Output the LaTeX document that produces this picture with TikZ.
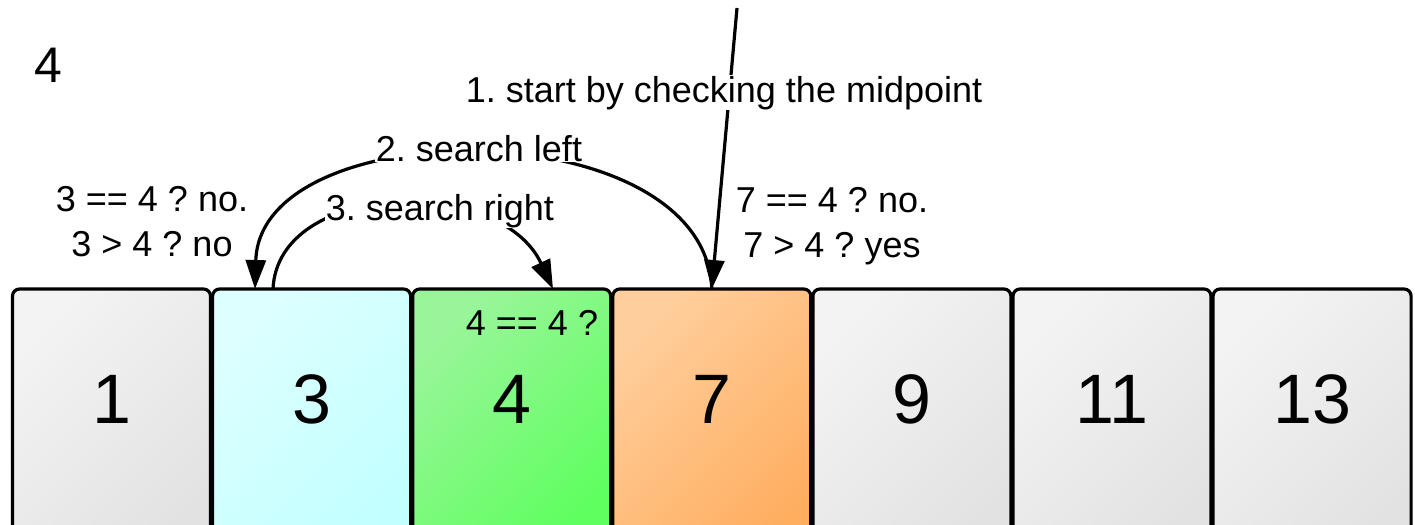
\documentclass[tikz,border=0pt]{standalone}
\usepackage{fontspec}
\setmainfont{Liberation Sans}
\frenchspacing
\usetikzlibrary{arrows.meta,calc}
\definecolor{grayA}{HTML}{F3F3F3}
\definecolor{grayB}{HTML}{E2E2E2}
\definecolor{cyanA}{HTML}{DDFFFF}
\definecolor{cyanB}{HTML}{C2FFFF}
\definecolor{greenA}{HTML}{9AF59A}
\definecolor{greenB}{HTML}{5EFF5E}
\definecolor{orangeA}{HTML}{FFCE9C}
\definecolor{orangeB}{HTML}{FFAE60}
\tikzset{
  cell/.style={draw=black, line width=1.6pt, rounded corners=3.5pt, outer sep=0pt,
    inner sep=0pt, minimum width=99pt, minimum height=135.5pt, anchor=north},
  cgray/.style={top color=grayA, bottom color=grayB, shading angle=45},
  ccyan/.style={top color=cyanA, bottom color=cyanB, shading angle=45},
  cgreen/.style={top color=greenA, bottom color=greenB, shading angle=45},
  corange/.style={top color=orangeA, bottom color=orangeB, shading angle=45},
  num/.style={anchor=base, font=\fontsize{35}{42}\selectfont},
  lbl/.style={font=\fontsize{18}{22.5}\selectfont, inner sep=0.5pt},
  conn/.style={line width=1.6pt, -{Triangle[length=14.5pt,width=10pt]}}
}
\begin{document}
\begin{tikzpicture}[x=0.5pt,y=-0.5pt]
\useasboundingbox (0,0) rectangle (1415,525);
\clip (0,0) rectangle (1415,525);
% cells
\node[cell, cgray]   (b1) at (111.5,289) {};
\node[cell, ccyan]   (b2) at (311.6,289) {};
\node[cell, cgreen]  (b3) at (511.7,289) {};
\node[cell, corange] (b4) at (711.8,289) {};
\node[cell, cgray]   (b5) at (911.9,289) {};
\node[cell, cgray]   (b6) at (1112,289) {};
\node[cell, cgray]   (b7) at (1312.1,289) {};
% numbers
\node[num] (n1) at (111.5,423) {1};
\node[num] (n2) at (311.6,423) {3};
\node[num] (n3) at (511.7,423) {4};
\node[num] (n4) at (711.8,423) {7};
\node[num] (n5) at (911.9,423) {9};
\node[num] (n6) at (1112,423) {11};
\node[num] (n7) at (1312.1,423) {13};
% connector end points
\coordinate (s1) at (737,8);
\coordinate (a7) at (b4.north);
\coordinate (a3in) at ($(b2.north)+(-56.6,0)$);
\coordinate (a3out) at ($(b2.north)+(-38.6,0)$);
\coordinate (a4in) at ($(b3.north)+(41.3,0)$);
% connectors
\draw[conn] (a3out) .. controls (278,180) and (500,175) .. (a4in);
\draw[conn] (a7) .. controls (705,110) and (260,110) .. (a3in);
\draw[conn] (s1) -- (a7);
% labels
\node[anchor=base, font=\fontsize{25}{30}\selectfont] (t0) at (48,82) {4};
\node[lbl, fill=white, anchor=base] (l1) at (724,102) {1. start by checking the midpoint};
\node[lbl, fill=white, anchor=base] (l2) at (479,161) {2. search left};
\node[lbl, fill=white, anchor=base] (l3) at (440,220) {3. search right};
\node[lbl, align=center] (q3) at (152,222) {3 == 4 ? no.\\3 > 4 ? no};
\node[lbl, align=center] (q7) at (832,226) {7 == 4 ? no.\\7 > 4 ? yes};
\node[lbl, anchor=base] (q4) at (532,335) {4 == 4 ?};
\end{tikzpicture}
\end{document}
